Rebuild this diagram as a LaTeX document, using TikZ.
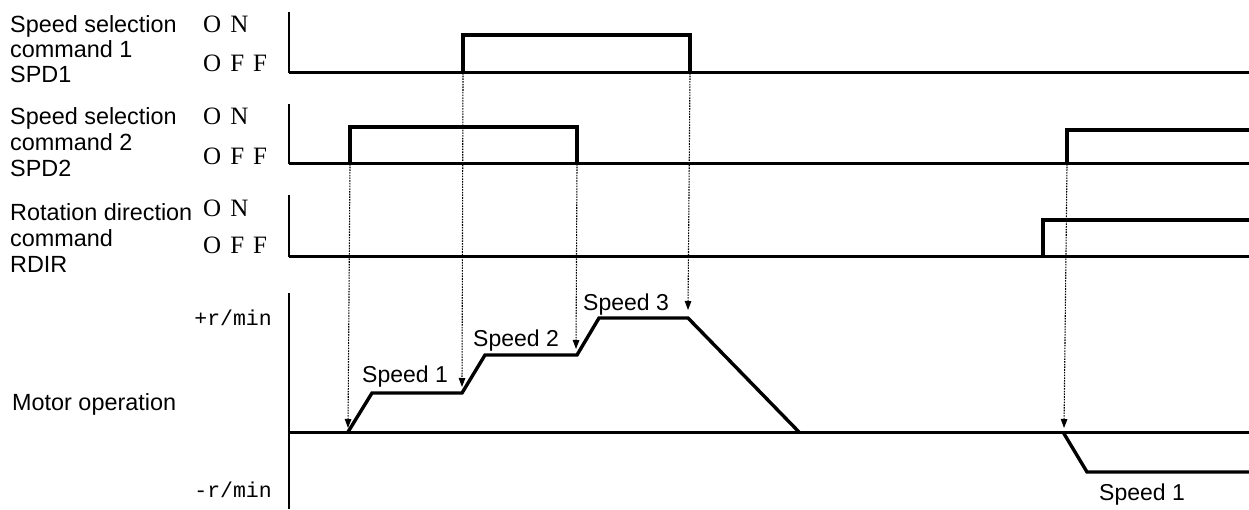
\documentclass[tikz,border=0pt]{standalone}
\usepackage{fontspec}
\setmainfont{Liberation Sans}
\newfontfamily\onofffont{Liberation Serif}
\newfontfamily\rpmfont{Liberation Mono}
\usetikzlibrary{arrows.meta}
\newcommand\lgap{\hskip 9pt}
\begin{document}
\begin{tikzpicture}[x=1pt,y=-1pt,
  lbl/.style={font=\fontsize{23.4}{26}\selectfont, anchor=base west, inner sep=0pt},
  spdlbl/.style={font=\fontsize{23}{26}\selectfont, anchor=base west, inner sep=0pt},
  onoff/.style={font=\onofffont\fontsize{25}{26}\selectfont, anchor=base west, inner sep=0pt},
  rpm/.style={font=\rpmfont\fontsize{21.5}{24}\selectfont, anchor=base east, inner sep=0pt},
  axisline/.style={line width=1.9pt},
  baseline/.style={line width=3pt},
  sigline/.style={line width=3.4pt, line join=miter, line cap=butt},
  dotarrow/.style={line width=1.1pt, dash pattern=on 1.6pt off 1.1pt,
     -{Triangle[length=9pt,width=6.5pt]}},
]
\useasboundingbox (0,0) rectangle (1249,510);

% ---- left labels ----
\node[lbl] (s1a) at (10,33) {Speed selection};
\node[lbl] (s1b) at (10,58) {command 1};
\node[lbl] (s1c) at (10,83) {SPD1};
\node[lbl] (s2a) at (10,125) {Speed selection};
\node[lbl] (s2b) at (10,151) {command 2};
\node[lbl] (s2c) at (10,177) {SPD2};
\node[lbl] (r1a) at (10,221) {Rotation direction};
\node[lbl] (r1b) at (10,247) {command};
\node[lbl] (r1c) at (10,273) {RDIR};
\node[lbl] (mot) at (12,410) {Motor operation};

% ---- ON / OFF ----
\node[onoff] (on1) at (203,33) {O\lgap N};
\node[onoff] (off1) at (203,72) {O\lgap F\lgap F};
\node[onoff] (on2) at (203,125) {O\lgap N};
\node[onoff] (off2) at (203,165) {O\lgap F\lgap F};
\node[onoff] (on3) at (203,217) {O\lgap N};
\node[onoff] (off3) at (203,254) {O\lgap F\lgap F};
\node[rpm] (prpm) at (272,325) {+r/min};
\node[rpm] (nrpm) at (272,497) {-r/min};

% ---- axes ----
\draw[axisline] (289,12) -- (289,73);
\draw[axisline] (289,104) -- (289,164);
\draw[axisline] (289,195) -- (289,257);
\draw[axisline] (289,293) -- (289,509);

% ---- SPD1 ----
\draw[baseline] (289,73) -- (1249,73);
\coordinate (a1) at (463,73);
\coordinate (b1) at (690,73);
\draw[sigline] (a1) -- (463,35) -- (690,35) -- (b1);

% ---- SPD2 ----
\draw[baseline] (289,164) -- (1249,164);
\coordinate (a2) at (350,164);
\coordinate (b2) at (577,164);
\coordinate (c2) at (1067,164);
\draw[sigline] (a2) -- (350,127) -- (577,127) -- (b2);
\draw[sigline] (c2) -- (1067,130) -- (1249,130);

% ---- RDIR ----
\draw[baseline] (289,257) -- (1249,257);
\draw[sigline] (1043,257) -- (1043,220) -- (1249,220);

% ---- Motor ----
\draw[baseline] (289,432) -- (1249,432);
\draw[sigline]
  (348,432) -- (372,393) -- (462,393) -- (485,355) -- (577,355)
  -- (599,318) -- (688,318) -- (799,432);
\draw[sigline] (1063,432) -- (1087,472) -- (1249,472);

\coordinate (t1) at (348,428);
\coordinate (t2) at (462,387);
\coordinate (t3) at (576,349);
\coordinate (t4) at (688,310);
\coordinate (t5) at (1064,428);

\draw[dotarrow] (a2) -- (t1);
\draw[dotarrow] (a1) -- (t2);
\draw[dotarrow] (b2) -- (t3);
\draw[dotarrow] (b1) -- (t4);
\draw[dotarrow] (c2) -- (t5);

% ---- speed labels ----
\node[spdlbl] (sp1) at (362,382) {Speed 1};
\node[spdlbl] (sp2) at (473,346) {Speed 2};
\node[spdlbl] (sp3) at (583,311) {Speed 3};
\node[spdlbl] (sp1n) at (1099,500) {Speed 1};
\end{tikzpicture}
\end{document}
